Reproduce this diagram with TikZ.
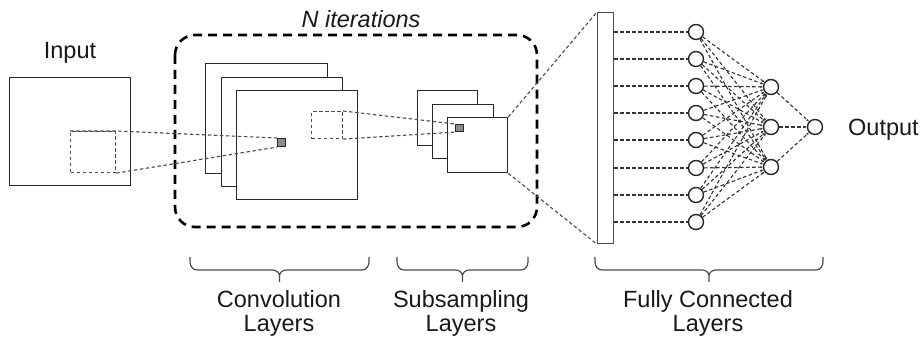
\documentclass[tikz,border=0pt]{standalone}
\usepackage{fontspec}
\setmainfont{Liberation Sans}
\usetikzlibrary{arrows.meta}
\begin{document}
\begin{tikzpicture}[x=1pt,y=-1pt,
 box/.style={draw=black!85,line width=1.3pt,fill=white,inner sep=0pt,anchor=north west},
 fieldbox/.style={draw=black!70,line width=1.1pt,dash pattern=on 3.5pt off 2.5pt,inner sep=0pt,anchor=north west},
 proj/.style={draw=black!70,line width=1.1pt,dash pattern=on 3.5pt off 2.5pt},
 patch/.style={draw=black!85,line width=1.1pt,fill=black!45,inner sep=0pt,anchor=north west},
 neuron/.style={circle,draw=black!85,line width=1.4pt,fill=white,minimum size=15pt,inner sep=0pt},
 link/.style={draw=black!80,line width=1.1pt,dash pattern=on 3.5pt off 2.5pt},
 frame/.style={draw=black,line width=2.6pt,dash pattern=on 9pt off 6pt,rounded corners=20pt},
 lbl/.style={font=\fontsize{23.5}{26}\selectfont,inner sep=0pt,text=black!90},
 bracestyle/.style={draw=black!70,line width=1.2pt}]
\useasboundingbox (0,0) rectangle (922,339);
\fill[white] (0,0) rectangle (922,339);

% N iterations frame
\draw[frame] (175,35) rectangle (537,227);
\node[lbl,font=\fontsize{23.5}{26}\selectfont\itshape,anchor=base] (iter) at (361,28) {N iterations};

% input
\node[lbl,anchor=base] (tin) at (70,59) {Input};
\node[box,minimum width=121pt,minimum height=108pt] (input) at (9,77) {};

% convolution layers
\node[box,minimum width=122pt,minimum height=110pt] (c1) at (205,63) {};
\node[box,minimum width=121pt,minimum height=109pt] (c2) at (221,77) {};
\node[box,minimum width=121pt,minimum height=109pt] (c3) at (236,90) {};

% subsampling layers
\node[box,minimum width=60pt,minimum height=55pt] (s1) at (417,90) {};
\node[box,minimum width=61pt,minimum height=54pt] (s2) at (432,104) {};
\node[box,minimum width=60pt,minimum height=55pt] (s3) at (447,117) {};

% fully connected bar
\node[box,draw=black!70,minimum width=16pt,minimum height=231pt] (bar) at (597,12) {};

% receptive fields
\node[fieldbox,minimum width=45pt,minimum height=41pt] (rf1) at (70,131) {};
\node[fieldbox,minimum width=31pt,minimum height=27pt] (rf2) at (311,111) {};
\node[patch,minimum width=8pt,minimum height=8pt] (sq1) at (277,138) {};
\node[patch,minimum width=8pt,minimum height=7pt] (sq2) at (455,124) {};

\draw[proj] (rf1.north west) -- (rf1.north east) -- (sq1.north west);
\draw[proj] (rf1.south east) -- (sq1.south west);
\draw[proj] (rf2.north east) -- (sq2.north west);
\draw[proj] (rf2.south east) -- (sq2.south west);
\draw[proj] (s3.north east) -- (bar.north west);
\draw[proj] (s3.south east) -- (bar.south west);

% neurons
\foreach \i/\y in {1/32,2/59,3/86,4/113,5/140,6/168,7/195,8/222}
  \node[neuron] (f\i) at (696,\y) {};
\foreach \j/\y in {1/87,2/127,3/167}
  \node[neuron] (h\j) at (771,\y) {};
\node[neuron] (o) at (815,127) {};

\foreach \i in {1,...,8} {
  \draw[link] (bar.east |- f\i) -- (f\i.west);
  \foreach \j in {1,2,3}
    \draw[link,-{Latex[length=2.5pt,width=2.5pt]}] (f\i) -- (h\j);
}
\foreach \j in {1,2,3}
  \draw[link,-{Latex[length=2.5pt,width=2.5pt]}] (h\j) -- (o);

\node[lbl,anchor=base west] (tout) at (848,136) {Output};

% braces
\foreach \a/\b in {190/369,397/528,595/823} {
  \pgfmathsetmacro{\m}{(\a+\b)/2}
  \draw[bracestyle] (\a,257) -- (\a,262) to[out=-90,in=180] (\a+7,270)
     -- (\m-7,270) to[out=0,in=90] (\m,276) -- (\m,282)
     (\m,276) to[out=90,in=180] (\m+7,270)
     -- (\b-7,270) to[out=0,in=-90] (\b,262) -- (\b,257);
}
\node[lbl,anchor=base] (l1a) at (279,308) {Convolution};
\node[lbl,anchor=base] (l1b) at (279,332) {Layers};
\node[lbl,anchor=base] (l2a) at (461,308) {Subsampling};
\node[lbl,anchor=base] (l2b) at (461,332) {Layers};
\node[lbl,anchor=base] (l3a) at (708,308) {Fully Connected};
\node[lbl,anchor=base] (l3b) at (708,332) {Layers};
\end{tikzpicture}
\end{document}
